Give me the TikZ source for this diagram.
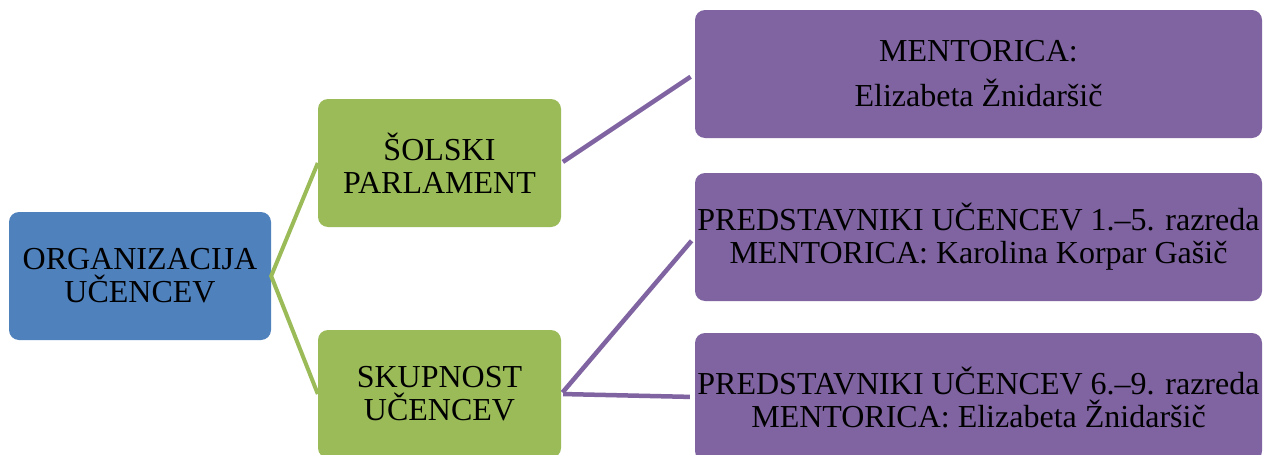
\documentclass[tikz,border=0pt]{standalone}
\usepackage{fontspec}
\setmainfont{Liberation Serif}
\definecolor{orgblue}{HTML}{4F81BD}
\definecolor{orggreen}{HTML}{9BBB59}
\definecolor{orgpurple}{HTML}{8064A2}
\begin{document}
\begin{tikzpicture}[x=1pt,y=-1pt,
  box/.style={rectangle, rounded corners=10pt, inner sep=0pt, align=center,
    font=\fontsize{32}{33}\selectfont, text=black},
  rootbox/.style={box, fill=orgblue, minimum width=262pt, minimum height=128pt},
  midbox/.style={box, fill=orggreen, minimum width=243pt, minimum height=128pt},
  leafbox/.style={box, fill=orgpurple, minimum width=567pt, minimum height=128pt},
  gline/.style={draw=orggreen, line width=4pt},
  pline/.style={draw=orgpurple, line width=4.5pt, shorten <=2pt, shorten >=5pt}]
\useasboundingbox (0,0) rectangle (1264,455);
\fill[white] (0,0) rectangle (1264,455);

\node[rootbox] (org) at (140,276) {ORGANIZACIJA\\UČENCEV};
\node[midbox] (sp) at (439.5,163) {ŠOLSKI\\PARLAMENT};
\node[midbox] (su) at (439.5,394) {SKUPNOST\\UČENCEV};
\node[leafbox] (m1) at (978.5,74) {MENTORICA:\\[12pt]Elizabeta Žnidaršič};
\node[leafbox] (m2) at (978.5,237) {PREDSTAVNIKI UČENCEV 1.–5. razreda\\MENTORICA: Karolina Korpar Gašič};
\node[leafbox] (m3) at (978.5,397) {PREDSTAVNIKI UČENCEV 6.–9. razreda\\MENTORICA: Elizabeta Žnidaršič};

\draw[gline] (sp.west) -- (org.east) -- (su.west);
\draw[pline] (sp.east) -- (m1.west);
\draw[pline] (su.east) -- (m2.west);
\draw[pline] (su.east) -- (m3.west);
\end{tikzpicture}
\end{document}
